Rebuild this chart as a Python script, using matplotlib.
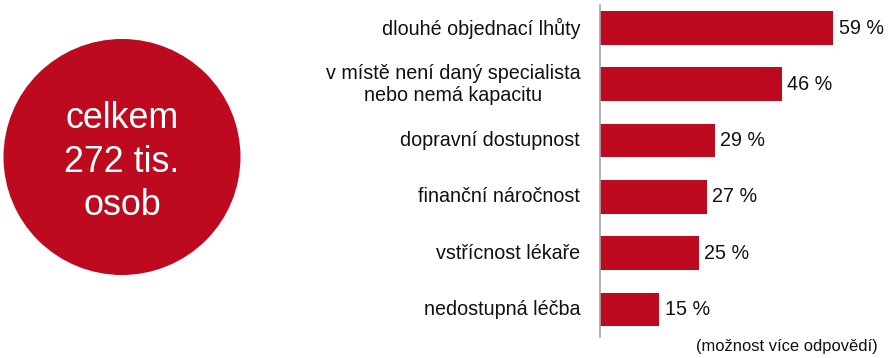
import matplotlib.pyplot as plt
from matplotlib.patches import Ellipse

plt.rcParams['font.family'] = ['Liberation Sans', 'DejaVu Sans']

# data
labels = ['dlouhé objednací lhůty',
          'v místě není daný specialista\nnebo nemá kapacitu',
          'dopravní dostupnost',
          'finanční náročnost',
          'vstřícnost lékaře',
          'nedostupná léčba']
values = [59, 46, 29, 27, 25, 15]
total_text = 'celkem\n272 tis.\nosob'
note = '(možnost více odpovědí)'

red = '#BE0A1F'
W, H = 889, 358

fig = plt.figure(figsize=(W / 100, H / 100), dpi=100)

# bar panel: axis line at x=600 px, from y=5 to y=337 px
ax = fig.add_axes([600 / W, (H - 337) / H, (W - 600) / W, 332 / H])
pos = list(range(len(values)))
ax.barh(pos, values, height=0.6, color=red)
ax.set_xlim(0, (W - 600) / 3.95)
ax.set_ylim(5.49, -0.41)
for s in ['top', 'right', 'bottom']:
    ax.spines[s].set_visible(False)
ax.spines['left'].set_color('#A6A6A6')
ax.spines['left'].set_linewidth(1.2)
ax.set_xticks([])
ax.set_yticks([])
for i, (lab, v) in enumerate(zip(labels, values)):
    ax.text(-5.0, i, lab, ha='right', va='center', multialignment='center',
            fontsize=14.2, color='#111111')
    ax.text(v + 1.4, i, '%d %%' % v, ha='left', va='center',
            fontsize=14.2, color='#111111')

fig.text(878 / W, (H - 346) / H, note, ha='right', va='center',
         fontsize=11.9, color='#111111')

# circle with total
cx = fig.add_axes([0, 0, 1, 1], zorder=-1)
cx.set_xlim(0, W)
cx.set_ylim(H, 0)
cx.axis('off')
cx.add_patch(Ellipse((122, 157), 237, 236, color=red, lw=0))
cx.text(122, 162, total_text, ha='center', va='center', color='white',
        fontsize=25.8, linespacing=1.32)

fig.savefig('out.png', dpi=100)
